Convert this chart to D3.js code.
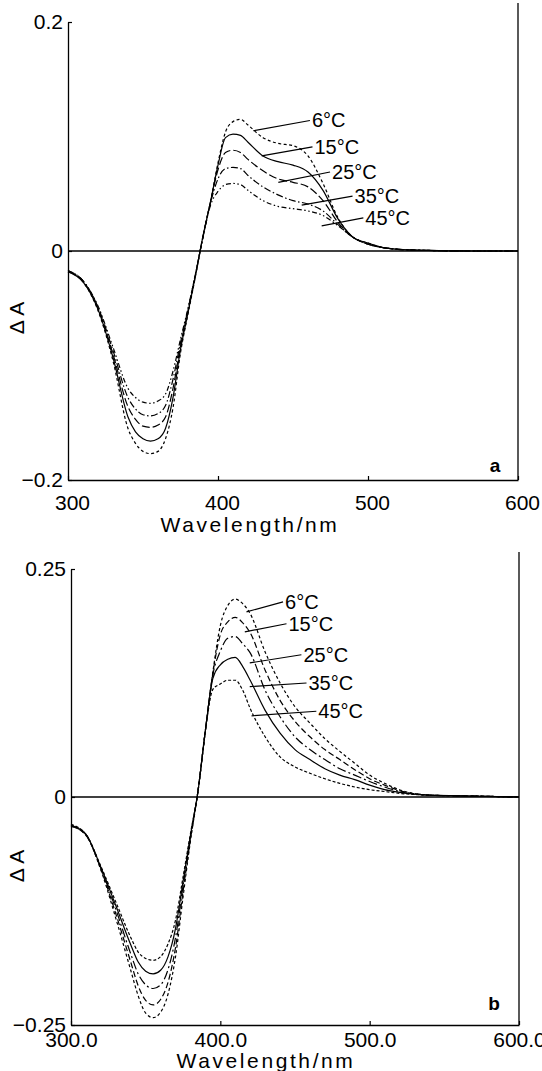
<!DOCTYPE html>
<html>
<head>
<meta charset="utf-8">
<script src="https://cdn.jsdelivr.net/npm/d3@7"></script>
<style>
  body { margin: 0; background: #fff; }
  svg { display: block; }
</style>
</head>
<body>
<svg id="chart"></svg>
<script>
// shared wavelength grid (nm)
const wavelengths = [300, 310, 320, 330, 340, 345, 350, 355, 360, 365, 370, 375, 380, 385, 390, 395, 400, 405, 410, 415, 420, 430, 440, 450, 460, 470, 480, 490, 500, 510, 520, 540, 570, 600];
const temps = ["6°C", "15°C", "25°C", "35°C", "45°C"];
const xTicks = [300, 400, 500, 600];

// panel a : ΔA per temperature
const a6  = [-0.018, -0.027, -0.052, -0.096, -0.155, -0.168, -0.175, -0.177, -0.175, -0.164, -0.137, -0.089, -0.055, -0.022, 0.013, 0.043, 0.077, 0.104, 0.113, 0.115, 0.110, 0.099, 0.094, 0.092, 0.083, 0.059, 0.029, 0.012, 0.007, 0.003, 0.0015, 0.0005, 0, 0];
const a15 = [-0.018, -0.027, -0.051, -0.093, -0.145, -0.158, -0.164, -0.166, -0.164, -0.155, -0.128, -0.086, -0.054, -0.021, 0.013, 0.043, 0.075, 0.099, 0.102, 0.101, 0.095, 0.083, 0.078, 0.075, 0.069, 0.053, 0.028, 0.012, 0.007, 0.003, 0.0015, 0.0005, 0, 0];
const a25 = [-0.018, -0.026, -0.050, -0.090, -0.136, -0.147, -0.153, -0.154, -0.152, -0.145, -0.120, -0.083, -0.052, -0.021, 0.013, 0.043, 0.071, 0.086, 0.088, 0.086, 0.080, 0.070, 0.063, 0.060, 0.056, 0.044, 0.025, 0.012, 0.006, 0.003, 0.0015, 0.0005, 0, 0];
const a35 = [-0.017, -0.026, -0.049, -0.087, -0.128, -0.138, -0.143, -0.144, -0.142, -0.135, -0.112, -0.080, -0.051, -0.020, 0.012, 0.042, 0.063, 0.072, 0.073, 0.072, 0.066, 0.056, 0.049, 0.044, 0.041, 0.035, 0.023, 0.012, 0.006, 0.003, 0.0015, 0.0005, 0, 0];
const a45 = [-0.017, -0.026, -0.048, -0.084, -0.120, -0.128, -0.132, -0.133, -0.131, -0.125, -0.105, -0.077, -0.050, -0.020, 0.012, 0.040, 0.052, 0.058, 0.059, 0.058, 0.053, 0.044, 0.039, 0.037, 0.035, 0.031, 0.022, 0.012, 0.006, 0.003, 0.0015, 0.0005, 0, 0];

// panel b
const b6  = [-0.032, -0.042, -0.080, -0.133, -0.190, -0.218, -0.237, -0.242, -0.236, -0.216, -0.175, -0.110, -0.048, 0.006, 0.073, 0.137, 0.188, 0.210, 0.217, 0.212, 0.201, 0.159, 0.125, 0.099, 0.081, 0.064, 0.050, 0.037, 0.024, 0.015, 0.008, 0.002, 0.001, 0];
const b15 = [-0.032, -0.042, -0.079, -0.128, -0.181, -0.207, -0.223, -0.228, -0.222, -0.203, -0.165, -0.104, -0.046, 0.006, 0.073, 0.136, 0.178, 0.192, 0.197, 0.191, 0.180, 0.139, 0.106, 0.083, 0.066, 0.052, 0.041, 0.030, 0.020, 0.013, 0.007, 0.002, 0.001, 0];
const b25 = [-0.031, -0.041, -0.078, -0.123, -0.172, -0.194, -0.206, -0.210, -0.206, -0.189, -0.154, -0.098, -0.044, 0.006, 0.073, 0.134, 0.160, 0.174, 0.176, 0.168, 0.158, 0.117, 0.088, 0.066, 0.052, 0.041, 0.031, 0.024, 0.017, 0.011, 0.006, 0.002, 0.001, 0];
const b35 = [-0.031, -0.041, -0.077, -0.119, -0.162, -0.181, -0.191, -0.194, -0.190, -0.175, -0.144, -0.093, -0.042, 0.006, 0.073, 0.130, 0.145, 0.151, 0.153, 0.143, 0.128, 0.095, 0.070, 0.052, 0.041, 0.031, 0.024, 0.019, 0.013, 0.008, 0.005, 0.002, 0.001, 0];
const b45 = [-0.030, -0.041, -0.076, -0.115, -0.154, -0.170, -0.177, -0.179, -0.175, -0.161, -0.135, -0.088, -0.040, 0.006, 0.073, 0.118, 0.124, 0.128, 0.128, 0.117, 0.097, 0.066, 0.044, 0.033, 0.026, 0.020, 0.015, 0.011, 0.008, 0.006, 0.004, 0.002, 0.001, 0];

// label leader lines [nm, ΔA]
const aLeadFrom = [[423.5, 0.105], [429.1, 0.083], [440.2, 0.060], [455.8, 0.040], [469.1, 0.022]];
const aLeadTo   = [[461.3, 0.114], [463.0, 0.091], [474.7, 0.069], [489.7, 0.048], [496.9, 0.029]];
const bLeadFrom = [[417.5, 0.203], [416.4, 0.181], [419.7, 0.147], [419.7, 0.121], [420.9, 0.089]];
const bLeadTo   = [[442.0, 0.214], [444.3, 0.190], [454.3, 0.156], [457.7, 0.125], [464.3, 0.094]];

const FONT = '"Liberation Sans", Arial, sans-serif';

const svg = d3.select("#chart").attr("width", 542).attr("height", 1071);

function styleAxis(sel) {
  sel.attr("font-family", FONT).attr("font-size", 21);
  sel.select(".domain").attr("stroke-width", 1.3);
  sel.selectAll(".tick line").attr("stroke-width", 1.2);
}

function drawPanel(p) {
  const x = d3.scaleLinear().domain([300, 600]).range(p.xRange);
  const y = d3.scaleLinear().domain(p.yDomain).range(p.yRange);
  const [x0, x1] = p.xRange;
  const yb = p.yRange[0];
  const g = svg.append("g");

  // left axis
  g.append("g")
   .attr("transform", "translate(" + x0 + ",0)")
   .call(d3.axisLeft(y).tickValues(p.yTicks).tickFormat(p.yFormat)
          .tickSizeInner(-4).tickSizeOuter(0).tickPadding(5))
   .call(styleAxis);

  // bottom axis
  const xa = g.append("g")
   .attr("transform", "translate(0," + yb + ")")
   .call(d3.axisBottom(x).tickValues(xTicks).tickFormat(p.xFormat)
          .tickSizeInner(-4).tickSizeOuter(0).tickPadding(p.xPad))
   .call(styleAxis);
  xa.selectAll("text").attr("dx", p.xLabelDx);

  // right frame + zero line
  g.append("line").attr("x1", x1).attr("x2", x1).attr("y1", p.borderTop).attr("y2", yb)
   .attr("stroke", "#000").attr("stroke-width", 1.3);
  g.append("line").attr("x1", x0).attr("x2", x1).attr("y1", y(0)).attr("y2", y(0))
   .attr("stroke", "#000").attr("stroke-width", 1.4);

  const line = d3.line()
    .x((d, i) => x(wavelengths[i]))
    .y(d => y(d))
    .curve(d3.curveMonotoneX);

  p.series.forEach((s, i) => {
    g.append("path")
     .datum(s)
     .attr("fill", "none")
     .attr("stroke", "#000")
     .attr("stroke-width", 1.2)
     .attr("stroke-dasharray", p.dashes[i])
     .attr("d", line);
  });

  // temperature labels
  temps.forEach((t, i) => {
    const f = p.leadFrom[i], e = p.leadTo[i];
    g.append("line")
     .attr("x1", x(f[0])).attr("y1", y(f[1]))
     .attr("x2", x(e[0])).attr("y2", y(e[1]))
     .attr("stroke", "#000").attr("stroke-width", 1.2);
    g.append("text")
     .attr("x", x(e[0]) + 2).attr("y", y(e[1]))
     .attr("dy", "0.35em")
     .attr("font-family", FONT).attr("font-size", 20)
     .text(t);
  });

  // panel tag
  g.append("text")
   .attr("x", p.tagPos[0]).attr("y", p.tagPos[1])
   .attr("text-anchor", "middle").attr("dy", "0.35em")
   .attr("font-family", FONT).attr("font-size", 19).attr("font-weight", "bold")
   .text(p.tag);

  // y title
  g.append("text")
   .attr("transform", "translate(24," + p.deltaY + ") rotate(-90)")
   .attr("text-anchor", "middle")
   .attr("font-family", FONT).attr("font-size", 21)
   .text("Δ A");

  // x title
  g.append("text")
   .attr("x", p.titlePos[0]).attr("y", p.titlePos[1])
   .attr("text-anchor", "middle")
   .attr("font-family", FONT).attr("font-size", 21)
   .attr("letter-spacing", 2.6)
   .text("Wavelength/nm");
}

const minusFmt = d => d === 0 ? "0" : (d < 0 ? "−" : "") + Math.abs(d);

drawPanel({
  series: [a6, a15, a25, a35, a45],
  dashes: ["3,2.5", null, "8,3", "7,2.5,1.5,2.5", "5,2.5,1.5,2.5,1.5,2.5"],
  xRange: [68, 518],
  yDomain: [-0.2, 0.2],
  yRange: [480, 22],
  yTicks: [-0.2, 0, 0.2],
  yFormat: minusFmt,
  xFormat: d3.format("d"),
  xPad: 15,
  xLabelDx: 4,
  borderTop: 3,
  leadFrom: aLeadFrom,
  leadTo: aLeadTo,
  tag: "a",
  tagPos: [495, 465],
  deltaY: 318,
  titlePos: [250, 532]
});

drawPanel({
  series: [b6, b15, b25, b35, b45],
  dashes: ["3,2.5", "6,3", "9,3,2,3", null, "3,2"],
  xRange: [71, 519],
  yDomain: [-0.25, 0.25],
  yRange: [1025, 569],
  yTicks: [-0.25, 0, 0.25],
  yFormat: minusFmt,
  xFormat: d3.format(".1f"),
  xPad: 7,
  xLabelDx: 0,
  borderTop: 552,
  leadFrom: bLeadFrom,
  leadTo: bLeadTo,
  tag: "b",
  tagPos: [494, 1003],
  deltaY: 866,
  titlePos: [266, 1068]
});
</script>
</body>
</html>
